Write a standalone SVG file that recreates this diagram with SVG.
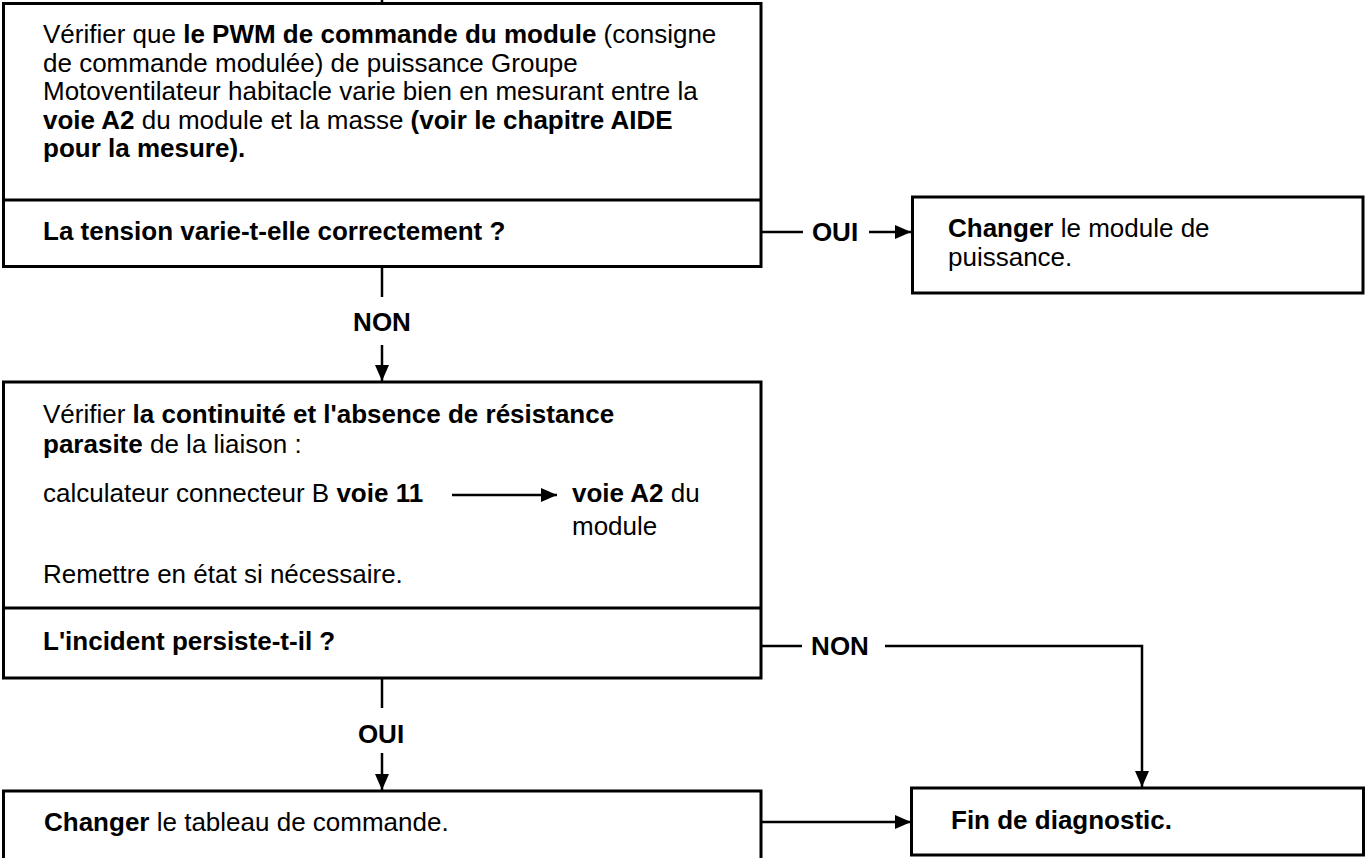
<svg xmlns="http://www.w3.org/2000/svg" width="1366" height="858" viewBox="0 0 1366 858">
<style>
text{font-family:"Liberation Sans",Arial,sans-serif;font-size:26px;fill:#000}
.b{font-weight:bold}
.box{fill:#fff;stroke:#000;stroke-width:3}
.div{stroke:#000;stroke-width:3}
.c{fill:none;stroke:#000;stroke-width:2.5}
.lbl{font-weight:bold;text-anchor:middle}
</style>
<defs>
<marker id="ah" viewBox="0 0 16 16" refX="16" refY="8" markerWidth="16" markerHeight="16" markerUnits="userSpaceOnUse" orient="auto">
<path d="M0,1 L16,8 L0,15 Z" fill="#000"/>
</marker>
</defs>
<rect width="1366" height="858" fill="#fff"/>
<g id="n1">
<rect class="box" x="3.5" y="3.5" width="757.5" height="263"/>
<line class="div" x1="3.5" y1="200" x2="761" y2="200"/>
<text x="43" y="43">Vérifier que <tspan class="b">le PWM de commande du module</tspan> (consigne</text>
<text x="43" y="71.5">de commande modulée) de puissance Groupe</text>
<text x="43" y="100">Motoventilateur habitacle varie bien en mesurant entre la</text>
<text x="43" y="128.5"><tspan class="b">voie A2</tspan> du module et la masse <tspan class="b">(voir le chapitre AIDE</tspan></text>
<text x="43" y="157" class="b">pour la mesure).</text>
<text x="43" y="240" class="b">La tension varie-t-elle correctement ?</text>
</g>
<g id="n2">
<rect class="box" x="912.5" y="197" width="450.5" height="96"/>
<text x="948" y="237"><tspan class="b">Changer</tspan> le module de</text>
<text x="948" y="266">puissance.</text>
</g>
<g id="n3">
<rect class="box" x="3.5" y="382" width="757.5" height="296"/>
<line class="div" x1="3.5" y1="608" x2="761" y2="608"/>
<text x="43" y="423">Vérifier <tspan class="b">la continuité et l'absence de résistance</tspan></text>
<text x="43" y="453"><tspan class="b">parasite</tspan> de la liaison :</text>
<text x="43" y="502">calculateur connecteur B <tspan class="b">voie 11</tspan></text>
<text x="572" y="502"><tspan class="b">voie A2</tspan> du</text>
<text x="572" y="535">module</text>
<text x="43" y="583">Remettre en état si nécessaire.</text>
<text x="43" y="650" class="b">L'incident persiste-t-il ?</text>
</g>
<g id="n4">
<rect class="box" x="3.5" y="791" width="757.5" height="75"/>
<text x="44" y="831"><tspan class="b">Changer</tspan> le tableau de commande.</text>
</g>
<g id="n5">
<rect class="box" x="911.5" y="788" width="452" height="67"/>
<text x="951" y="829" class="b">Fin de diagnostic.</text>
</g>
<g id="connectors">
<line class="c" x1="382" y1="0" x2="382" y2="4"/>
<line class="c" x1="382" y1="266" x2="382" y2="297"/>
<text class="lbl" x="382" y="331">NON</text>
<line class="c" x1="382" y1="345" x2="382" y2="381" marker-end="url(#ah)"/>
<line class="c" x1="761" y1="232" x2="803" y2="232"/>
<text class="lbl" x="835" y="241">OUI</text>
<line class="c" x1="869" y1="232" x2="911" y2="232" marker-end="url(#ah)"/>
<line class="c" x1="452" y1="495" x2="557" y2="495" marker-end="url(#ah)"/>
<line class="c" x1="761" y1="646" x2="802" y2="646"/>
<text class="lbl" x="840" y="655">NON</text>
<polyline class="c" points="885,646 1142,646 1142,787" marker-end="url(#ah)"/>
<line class="c" x1="382" y1="678" x2="382" y2="708"/>
<text class="lbl" x="381" y="743">OUI</text>
<line class="c" x1="382" y1="753" x2="382" y2="790" marker-end="url(#ah)"/>
<line class="c" x1="761" y1="822" x2="911" y2="822" marker-end="url(#ah)"/>
</g>
</svg>
